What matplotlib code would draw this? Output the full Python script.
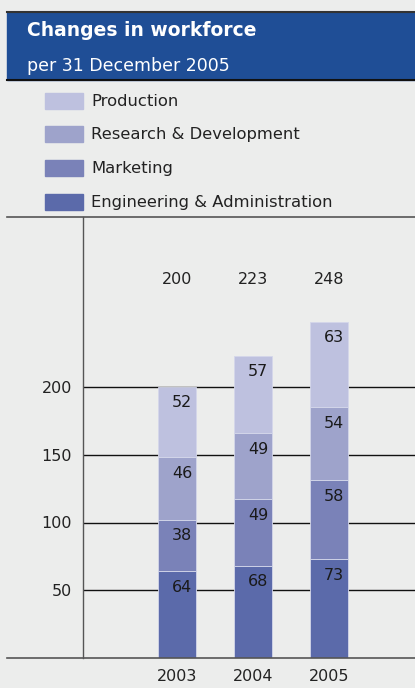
import numpy as np
import matplotlib
matplotlib.use('Agg')
import matplotlib.pyplot as plt
from matplotlib.patches import Rectangle
from matplotlib.lines import Line2D

# data
years = ['2003', '2004', '2005']
categories = ['Engineering & Administration', 'Marketing', 'Research & Development', 'Production']
eng_admin = [64, 68, 73]
marketing = [38, 49, 58]
research = [46, 49, 54]
production = [52, 57, 63]
totals = [200, 223, 248]
yticks = [50, 100, 150, 200]

colors = ['#5b6aaa', '#7a82b8', '#9ea3cb', '#bec1df']
bg = '#ecedec'
header_blue = '#1f4e96'

W, H = 415, 688
fig = plt.figure(figsize=(W / 100, H / 100), dpi=100, facecolor=bg)
plt.rcParams['font.family'] = ['DejaVu Sans']


def fx(px):
    return px / W


def fy(py):
    return 1 - py / H


# header
fig.patches.append(Rectangle((fx(7), fy(80)), 1 - fx(7), fy(12) - fy(80),
                             transform=fig.transFigure, color=header_blue, zorder=0))
fig.add_artist(Line2D([fx(7), 1], [fy(12), fy(12)], color='#333333', lw=1.5))
fig.add_artist(Line2D([fx(7), 1], [fy(80), fy(80)], color='#111111', lw=1.5))
fig.text(fx(27), fy(31), 'Changes in workforce', color='white', fontsize=13.5,
         fontweight='bold', va='center', ha='left')
fig.text(fx(27), fy(66), 'per 31 December 2005', color='white', fontsize=12.5,
         va='center', ha='left')

# legend (top to bottom: Production ... Engineering)
leg_y = [101, 134, 168, 202]
for i, (lab, col) in enumerate(zip(categories[::-1], colors[::-1])):
    y = leg_y[i]
    fig.patches.append(Rectangle((fx(45), fy(y + 8)), fx(38), 16 / H,
                                 transform=fig.transFigure, color=col))
    fig.text(fx(91), fy(y), lab, color='#222222', fontsize=11.8, va='center', ha='left')

fig.add_artist(Line2D([fx(7), 1], [fy(217), fy(217)], color='#555555', lw=1.2))
fig.add_artist(Line2D([fx(7), 1], [fy(658), fy(658)], color='#555555', lw=1.2))

# plot area
ax = fig.add_axes([fx(83), fy(658), 1 - fx(83), fy(217) - fy(658)])
ax.set_facecolor(bg)
x = np.arange(len(years))
ax.set_xlim((83 - 177) / 76, (415 - 177) / 76)
ax.set_ylim(0, 441 / 1.355)

for t in yticks:
    ax.axhline(t, color='#111111', lw=1, zorder=1)

bottom = np.zeros(len(years))
series = [eng_admin, marketing, research, production]
for vals, col in zip(series, colors):
    ax.bar(x, vals, width=0.5, bottom=bottom, color=col, edgecolor='#d4d7ea',
           linewidth=0.6, zorder=2)
    for xi, b, v in zip(x, bottom, vals):
        ax.annotate(str(v), (xi + 0.25 - 4 / 76, b + v), xytext=(0, -11.5),
                    textcoords='offset points', ha='right', va='center',
                    fontsize=11.5, color='#1a1a1a', zorder=3)
    bottom += np.array(vals)

for xi, t in zip(x, totals):
    ax.text(xi, (658 - 279) / 1.355, str(t), ha='center', va='center',
            fontsize=11.5, color='#222222')

for s in ['top', 'right', 'bottom']:
    ax.spines[s].set_visible(False)
ax.spines['left'].set_color('#555555')
ax.spines['left'].set_linewidth(1)

ax.set_yticks(yticks)
ax.set_yticklabels([str(t) for t in yticks], fontsize=11.5, color='#222222')
ax.tick_params(axis='y', length=0, pad=8)
ax.set_xticks(x)
ax.set_xticklabels(years, fontsize=11.5, color='#222222')
ax.tick_params(axis='x', length=0, pad=8)

fig.savefig('out.png', dpi=100, facecolor=bg)
